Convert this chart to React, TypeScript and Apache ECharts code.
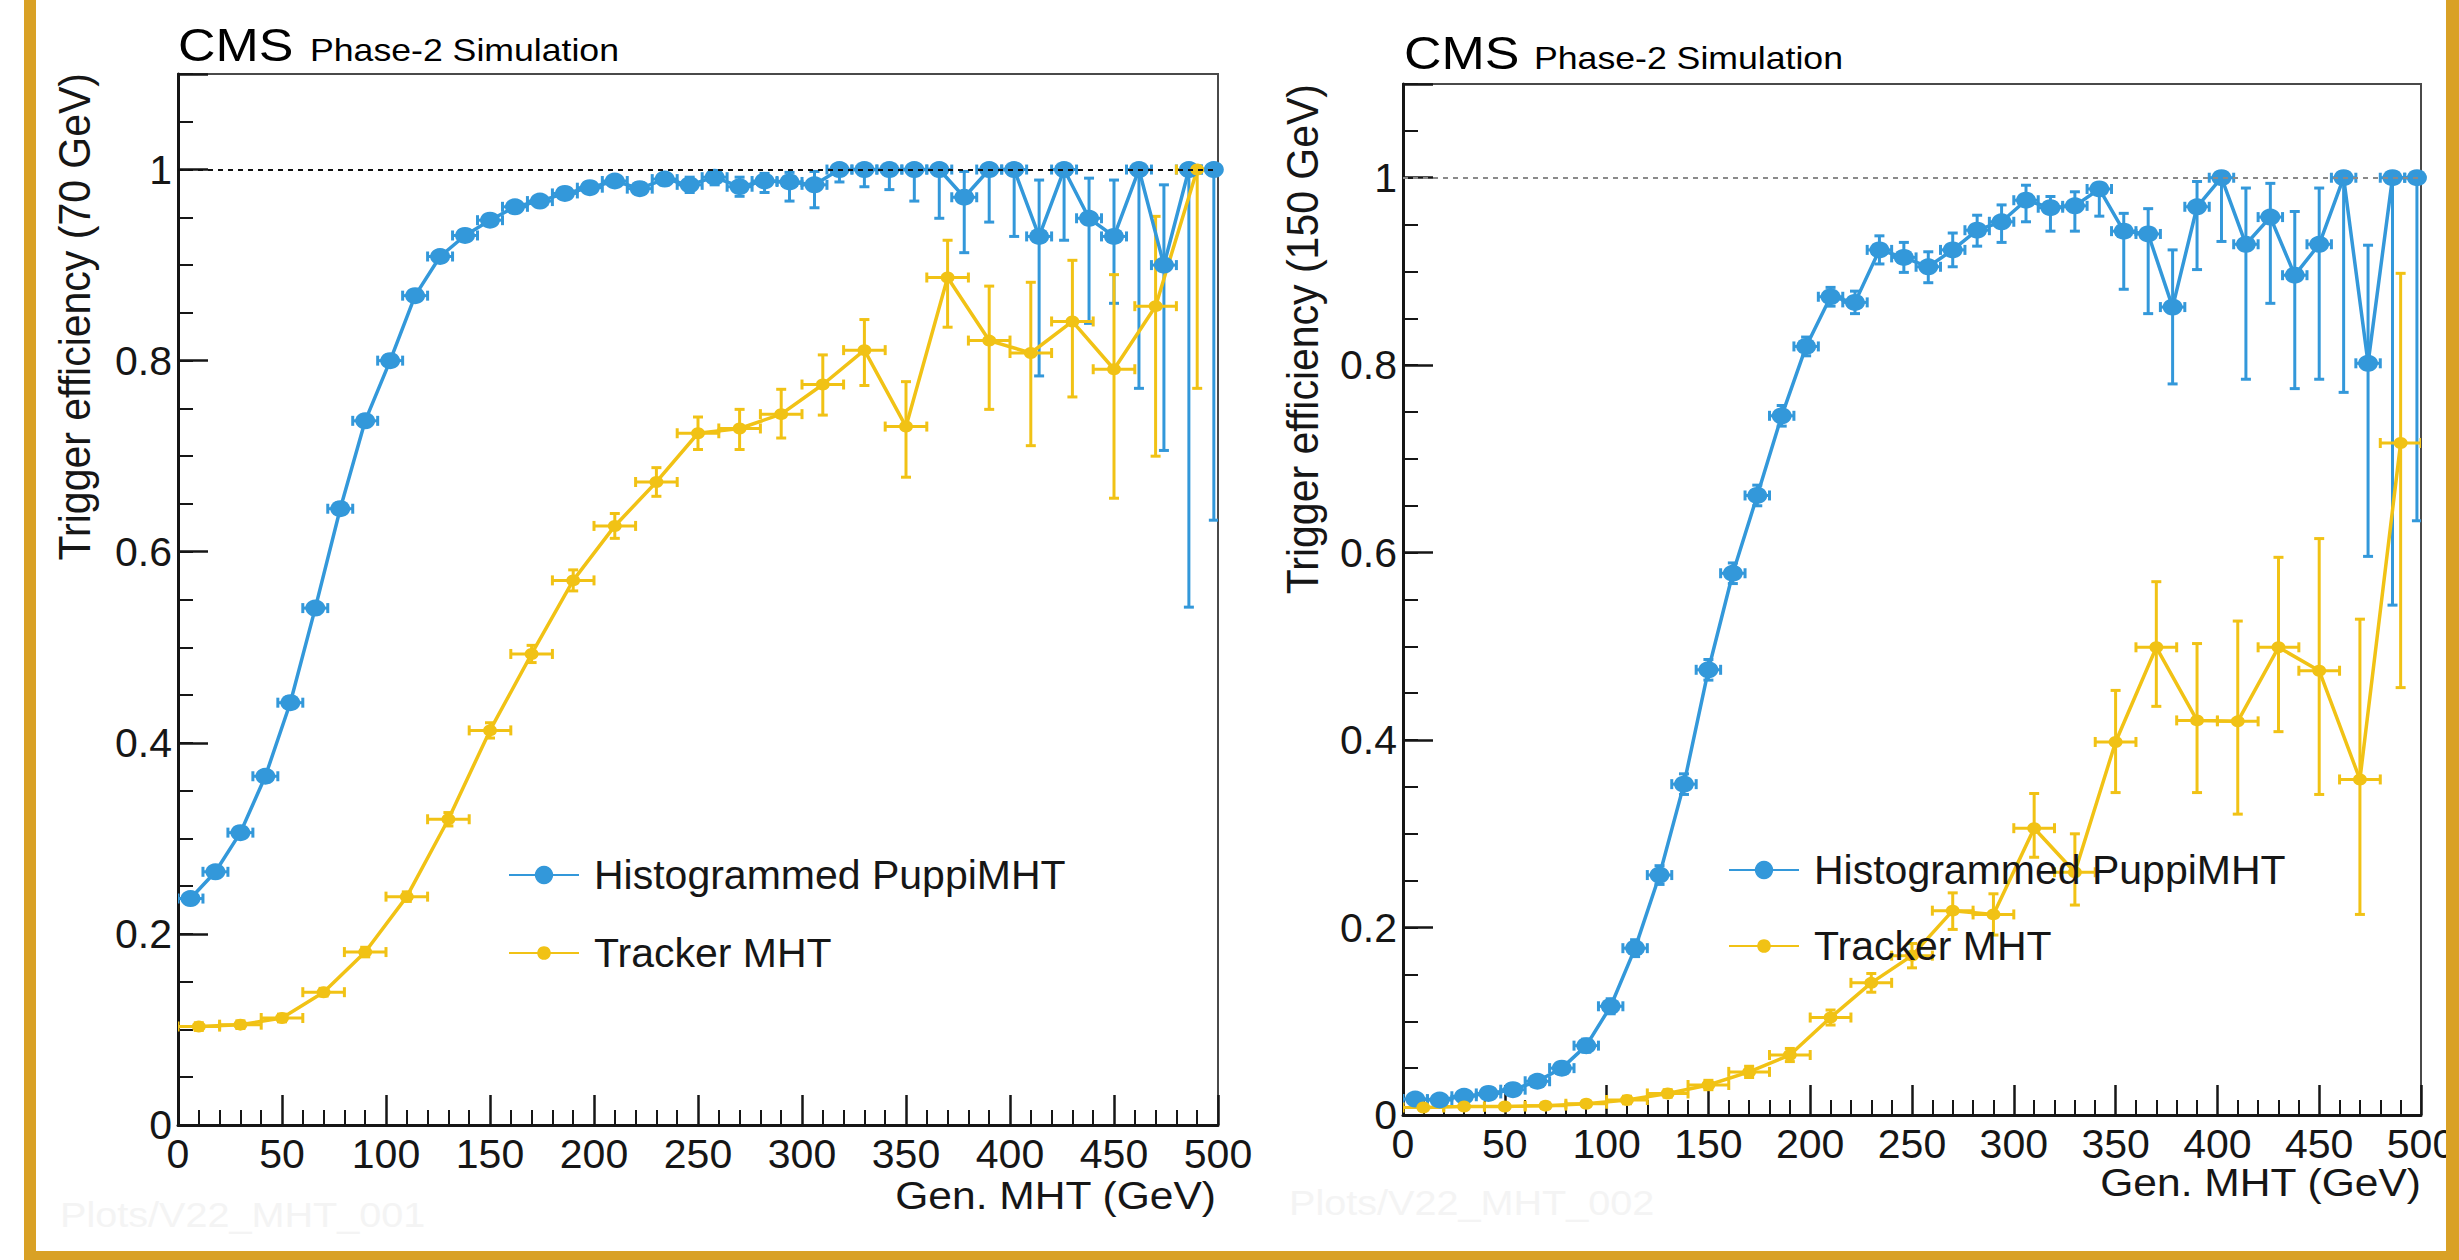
import React, { useEffect, useRef } from 'react';
import * as echarts from 'echarts';

// ---------------- data ----------------
// bin centres (GeV)
const PUPPI_BINS = [6, 18, 30, 42, 54, 66, 78, 90, 102, 114, 126, 138, 150, 162, 174, 186, 198, 210, 222, 234, 246, 258, 270, 282, 294, 306, 318, 330, 342, 354, 366, 378, 390, 402, 414, 426, 438, 450, 462, 474, 486, 498];
const PUPPI_HALF_WIDTH = 6;
const TRACKER_BINS = [10, 30, 50, 70, 90, 110, 130, 150, 170, 190, 210, 230, 250, 270, 290, 310, 330, 350, 370, 390, 410, 430, 450, 470, 490];
const TRACKER_HALF_WIDTH = 10;

// 70 GeV threshold
const PUPPI_EFF_70 = [0.237, 0.265, 0.306, 0.365, 0.442, 0.541, 0.645, 0.737, 0.8, 0.868, 0.909, 0.931, 0.947, 0.961, 0.967, 0.975, 0.981, 0.988, 0.98, 0.99, 0.984, 0.992, 0.982, 0.988, 0.987, 0.984, 1, 1, 1, 1, 1, 0.971, 1, 1, 0.93, 1, 0.949, 0.93, 1, 0.9, 1, 1];
const PUPPI_DN_70 = [0.005, 0.005, 0.005, 0.006, 0.006, 0.006, 0.006, 0.006, 0.006, 0.005, 0.005, 0.005, 0.005, 0.005, 0.005, 0.005, 0.005, 0.005, 0.006, 0.006, 0.008, 0.008, 0.01, 0.012, 0.02, 0.024, 0.013, 0.018, 0.021, 0.033, 0.051, 0.058, 0.055, 0.07, 0.146, 0.074, 0.11, 0.07, 0.229, 0.194, 0.458, 0.367];
const PUPPI_UP_70 = [0.005, 0.005, 0.005, 0.006, 0.006, 0.006, 0.006, 0.006, 0.006, 0.005, 0.005, 0.005, 0.005, 0.005, 0.005, 0.005, 0.005, 0.005, 0.006, 0.006, 0.008, 0.006, 0.01, 0.008, 0.01, 0.014, 0, 0, 0, 0, 0, 0.027, 0, 0, 0.059, 0, 0.042, 0.059, 0, 0.084, 0, 0];
const TRACKER_EFF_70 = [0.103, 0.105, 0.112, 0.139, 0.181, 0.239, 0.32, 0.413, 0.493, 0.57, 0.627, 0.673, 0.724, 0.729, 0.744, 0.775, 0.811, 0.731, 0.887, 0.821, 0.808, 0.841, 0.791, 0.857, 1];
const TRACKER_DN_70 = [0.004, 0.004, 0.004, 0.004, 0.005, 0.005, 0.007, 0.008, 0.009, 0.011, 0.013, 0.015, 0.017, 0.022, 0.025, 0.032, 0.037, 0.053, 0.052, 0.072, 0.097, 0.079, 0.135, 0.157, 0.229];
const TRACKER_UP_70 = [0.004, 0.004, 0.004, 0.004, 0.005, 0.005, 0.007, 0.008, 0.009, 0.011, 0.013, 0.015, 0.017, 0.02, 0.026, 0.031, 0.032, 0.047, 0.039, 0.057, 0.074, 0.064, 0.099, 0.094, 0];

// 150 GeV threshold
const PUPPI_EFF_150 = [0.017, 0.016, 0.02, 0.023, 0.027, 0.036, 0.05, 0.074, 0.116, 0.178, 0.256, 0.353, 0.475, 0.578, 0.661, 0.746, 0.82, 0.873, 0.867, 0.923, 0.915, 0.905, 0.923, 0.944, 0.953, 0.976, 0.968, 0.97, 0.988, 0.943, 0.94, 0.862, 0.969, 1, 0.929, 0.958, 0.896, 0.929, 1, 0.802, 1, 1];
const PUPPI_DN_150 = [0.004, 0.004, 0.004, 0.004, 0.005, 0.005, 0.006, 0.007, 0.008, 0.009, 0.01, 0.011, 0.011, 0.011, 0.011, 0.011, 0.01, 0.01, 0.012, 0.015, 0.016, 0.017, 0.018, 0.017, 0.022, 0.023, 0.025, 0.027, 0.029, 0.062, 0.085, 0.082, 0.067, 0.068, 0.144, 0.092, 0.121, 0.144, 0.229, 0.206, 0.456, 0.366];
const PUPPI_UP_150 = [0.004, 0.004, 0.004, 0.004, 0.005, 0.005, 0.006, 0.007, 0.008, 0.009, 0.01, 0.011, 0.011, 0.011, 0.011, 0.011, 0.01, 0.01, 0.012, 0.015, 0.016, 0.016, 0.018, 0.016, 0.018, 0.016, 0.012, 0.015, 0.005, 0.019, 0.027, 0.061, 0.027, 0, 0.06, 0.036, 0.068, 0.06, 0, 0.126, 0, 0];
const TRACKER_EFF_150 = [0.008, 0.009, 0.009, 0.01, 0.012, 0.016, 0.023, 0.032, 0.046, 0.064, 0.104, 0.141, 0.17, 0.218, 0.214, 0.306, 0.259, 0.398, 0.499, 0.421, 0.42, 0.499, 0.474, 0.358, 0.717];
const TRACKER_DN_150 = [0.003, 0.003, 0.003, 0.003, 0.003, 0.004, 0.004, 0.005, 0.006, 0.007, 0.008, 0.01, 0.013, 0.02, 0.022, 0.031, 0.035, 0.054, 0.063, 0.077, 0.099, 0.09, 0.132, 0.144, 0.261];
const TRACKER_UP_150 = [0.003, 0.003, 0.003, 0.003, 0.003, 0.004, 0.004, 0.005, 0.006, 0.007, 0.008, 0.01, 0.013, 0.019, 0.022, 0.037, 0.041, 0.055, 0.07, 0.082, 0.107, 0.096, 0.141, 0.171, 0.181];

const X_TICKS = { min: 0, max: 500, major: 50, minorSplit: 5 };
const Y_TICKS = { min: 0, max: 1.1, major: 0.2, minor: 0.05 };

const SERIES_NAMES = ['Histogrammed PuppiMHT', 'Tracker MHT'];
const Y_TITLES = ['Trigger efficiency (70 GeV)', 'Trigger efficiency (150 GeV)'];
const X_TITLE = 'Gen. MHT (GeV)';
const WATERMARKS = ['Plots/V22_MHT_001', 'Plots/V22_MHT_002'];

// ---------------- style / layout ----------------
const FONT = '"Liberation Sans", Arial, Helvetica, sans-serif';
const BLUE = '#3398DA';
const YELLOW = '#F1C215';
const GOLD = '#D9A125';
const INK = '#161616';

const PANELS = [
  {
    grid: { left: 178, top: 74, width: 1040, height: 1051 },
    cms: { x: 178, y: 45 }, phase: { x: 310, y: 50 },
    yTitle: { x: 74, y: 73 }, xTitle: { x: 1216, y: 1196 },
    legend: { left: 508, top1: 854, top2: 932 },
    water: { x: 60, y: 1215 },
    dash: '#111',
    puppi: [PUPPI_EFF_70, PUPPI_DN_70, PUPPI_UP_70],
    tracker: [TRACKER_EFF_70, TRACKER_DN_70, TRACKER_UP_70],
  },
  {
    grid: { left: 1403, top: 84, width: 1018, height: 1031 },
    cms: { x: 1404, y: 53 }, phase: { x: 1534, y: 58 },
    yTitle: { x: 1302, y: 84 }, xTitle: { x: 2421, y: 1183 },
    legend: { left: 1728, top1: 849, top2: 925 },
    water: { x: 1289, y: 1203 },
    dash: '#8a8a8a',
    puppi: [PUPPI_EFF_150, PUPPI_DN_150, PUPPI_UP_150],
    tracker: [TRACKER_EFF_150, TRACKER_DN_150, TRACKER_UP_150],
  },
];

function errorBars(name: string, bins: number[], eff: number[], dn: number[], up: number[], half: number, color: string, axis: number, yAxis: number) {
  const data = bins.map((x, i) => [x, eff[i], eff[i] - dn[i], eff[i] + up[i], x - half, x + half]);
  return {
    type: 'custom',
    name,
    xAxisIndex: axis,
    yAxisIndex: yAxis,
    silent: true,
    clip: true,
    z: 2,
    encode: { x: [0, 4, 5], y: [1, 2, 3] },
    data,
    renderItem: (params: any, api: any) => {
      const cs = params.coordSys;
      const xMinPx = cs.x;
      const xMaxPx = cs.x + cs.width;
      const x = api.value(0);
      const y = api.value(1);
      const lo = api.coord([x, api.value(2)]);
      const hi = api.coord([x, api.value(3)]);
      const l = api.coord([api.value(4), y]);
      const r = api.coord([api.value(5), y]);
      const st = { stroke: color, lineWidth: 3 };
      const cap = 5;
      const lx = Math.max(l[0], xMinPx);
      const rx = Math.min(r[0], xMaxPx);
      const children: any[] = [
        { type: 'line', shape: { x1: lo[0], y1: lo[1], x2: hi[0], y2: hi[1] }, style: st },
        { type: 'line', shape: { x1: lx, y1: l[1], x2: rx, y2: r[1] }, style: st },
      ];
      if (lx === l[0]) children.push({ type: 'line', shape: { x1: lx, y1: l[1] - cap, x2: lx, y2: l[1] + cap }, style: st });
      if (rx === r[0]) children.push({ type: 'line', shape: { x1: rx, y1: r[1] - cap, x2: rx, y2: r[1] + cap }, style: st });
      if (api.value(3) - y > 0.0005) children.push({ type: 'line', shape: { x1: hi[0] - cap, y1: hi[1], x2: hi[0] + cap, y2: hi[1] }, style: st });
      if (y - api.value(2) > 0.0005) children.push({ type: 'line', shape: { x1: lo[0] - cap, y1: lo[1], x2: lo[0] + cap, y2: lo[1] }, style: st });
      return { type: 'group', children };
    },
  };
}

function lineSeries(name: string, bins: number[], eff: number[], color: string, size: number[], axis: number, yAxis: number, dash?: string) {
  const s: any = {
    type: 'line',
    name,
    xAxisIndex: axis,
    yAxisIndex: yAxis,
    data: bins.map((x, i) => [x, eff[i]]),
    symbol: 'circle',
    symbolSize: size,
    showSymbol: true,
    clip: true,
    z: 3,
    silent: true,
    itemStyle: { color },
    lineStyle: { color, width: 3.5 },
    emphasis: { disabled: true },
  };
  if (dash) {
    s.markLine = {
      silent: true,
      symbol: ['none', 'none'],
      label: { show: false },
      lineStyle: { color: dash, type: [5, 5], width: 2 },
      data: [{ yAxis: 1 }],
    };
  }
  return s;
}

function buildOption() {
  const grid: any[] = [];
  const xAxis: any[] = [];
  const yAxis: any[] = [];
  const series: any[] = [];
  const legend: any[] = [];
  const graphic: any[] = [];

  const tickLine = { color: INK, width: 2.5 };
  const labelStyle = { fontSize: 41, fontFamily: FONT, color: INK };

  PANELS.forEach((p, k) => {
    grid.push({ ...p.grid, show: true, borderColor: '#4a4a4a', borderWidth: 2, backgroundColor: 'transparent', containLabel: false, outerBoundsMode: 'none' });
    xAxis.push({
      type: 'value', gridIndex: k, min: X_TICKS.min, max: X_TICKS.max, interval: X_TICKS.major,
      axisLine: { show: true, onZero: false, lineStyle: { color: INK, width: 3 } },
      axisTick: { show: true, inside: true, length: 30, lineStyle: tickLine },
      minorTick: { show: true, splitNumber: X_TICKS.minorSplit, length: 15, lineStyle: { color: INK, width: 2 } },
      splitLine: { show: false }, minorSplitLine: { show: false },
      axisLabel: { ...labelStyle, margin: 8, hideOverlap: false },
    });
    yAxis.push({
      type: 'value', gridIndex: k, position: 'left', min: Y_TICKS.min, max: Y_TICKS.max, interval: Y_TICKS.major,
      axisLine: { show: true, onZero: false, lineStyle: { color: INK, width: 3 } },
      axisTick: { show: true, inside: true, length: 30, lineStyle: tickLine },
      splitLine: { show: false },
      axisLabel: {
        ...labelStyle, margin: 6, hideOverlap: false,
        formatter: (v: number) => (v > 1.001 ? '' : String(Number(v.toFixed(1)))),
      },
    });
    yAxis.push({
      type: 'value', gridIndex: k, position: 'left', offset: 0, min: Y_TICKS.min, max: Y_TICKS.max, interval: Y_TICKS.minor,
      axisLine: { show: false },
      axisTick: { show: true, inside: true, length: 15, lineStyle: { color: INK, width: 2 } },
      splitLine: { show: false },
      axisLabel: { show: false },
    });
    const yi = 2 * k;
    const [pe, pd, pu] = p.puppi;
    const [te, td, tu] = p.tracker;
    series.push(errorBars('puppiErr' + k, PUPPI_BINS, pe, pd, pu, PUPPI_HALF_WIDTH, BLUE, k, yi));
    series.push(errorBars('trackerErr' + k, TRACKER_BINS, te, td, tu, TRACKER_HALF_WIDTH, YELLOW, k, yi));
    series.push(lineSeries(SERIES_NAMES[0], PUPPI_BINS, pe, BLUE, [20, 17], k, yi, p.dash));
    series.push(lineSeries(SERIES_NAMES[1], TRACKER_BINS, te, YELLOW, [14, 12], k, yi));

    const legendBase = {
      orient: 'vertical', padding: 0, itemWidth: 70, selectedMode: false,
      textStyle: { fontSize: 41, fontFamily: FONT, color: INK, lineHeight: 42, padding: [0, 0, 0, 10] },
    };
    legend.push({ ...legendBase, left: p.legend.left, top: p.legend.top1, itemHeight: 23, data: [SERIES_NAMES[0]] });
    legend.push({ ...legendBase, left: p.legend.left, top: p.legend.top2, itemHeight: 17, data: [SERIES_NAMES[1]] });

    graphic.push({ type: 'text', x: p.cms.x, y: p.cms.y, scaleX: 1.13, z: 10,
      style: { text: 'CMS', fontSize: 46, fontFamily: FONT, fill: '#000', align: 'left', verticalAlign: 'middle', textAlign: 'left', textVerticalAlign: 'middle' } });
    graphic.push({ type: 'text', x: p.phase.x, y: p.phase.y, scaleX: 1.15, z: 10,
      style: { text: 'Phase-2 Simulation', fontSize: 31, fontFamily: FONT, fill: '#000', align: 'left', verticalAlign: 'middle', textAlign: 'left', textVerticalAlign: 'middle' } });
    graphic.push({ type: 'text', x: p.yTitle.x, y: p.yTitle.y, rotation: Math.PI / 2, scaleY: 1.1, z: 10,
      style: { text: Y_TITLES[k], fontSize: 41, fontFamily: FONT, fill: INK, align: 'right', verticalAlign: 'middle', textAlign: 'right', textVerticalAlign: 'middle' } });
    graphic.push({ type: 'text', x: p.xTitle.x, y: p.xTitle.y, scaleX: 1.12, z: 10,
      style: { text: X_TITLE, fontSize: 38, fontFamily: FONT, fill: INK, align: 'right', verticalAlign: 'middle', textAlign: 'right', textVerticalAlign: 'middle' } });
    graphic.push({ type: 'text', x: p.water.x, y: p.water.y, scaleX: 1.1, z: 1,
      style: { text: WATERMARKS[k], fontSize: 36, fontFamily: FONT, fill: '#f4f4f4', align: 'left', verticalAlign: 'middle', textAlign: 'left', textVerticalAlign: 'middle' } });
  });

  // golden frame
  graphic.push({ type: 'rect', z: 100, shape: { x: 24, y: 0, width: 12, height: 1260 }, style: { fill: GOLD } });
  graphic.push({ type: 'rect', z: 100, shape: { x: 24, y: 1251, width: 2435, height: 9 }, style: { fill: GOLD } });
  graphic.push({ type: 'rect', z: 100, shape: { x: 2446, y: 0, width: 13, height: 1260 }, style: { fill: GOLD } });

  return {
    animation: false,
    backgroundColor: '#ffffff',
    textStyle: { fontFamily: FONT },
    tooltip: { show: false },
    grid, xAxis, yAxis, series, legend, graphic,
  };
}

export default function App() {
  const ref = useRef<HTMLDivElement>(null);
  useEffect(() => {
    document.body.style.margin = '0';
    const chart = echarts.init(ref.current as HTMLDivElement, null, { renderer: 'svg' });
    chart.setOption(buildOption() as any);
    return () => chart.dispose();
  }, []);
  return <div ref={ref} style={{ width: 2459, height: 1260, background: '#fff' }} />;
}
